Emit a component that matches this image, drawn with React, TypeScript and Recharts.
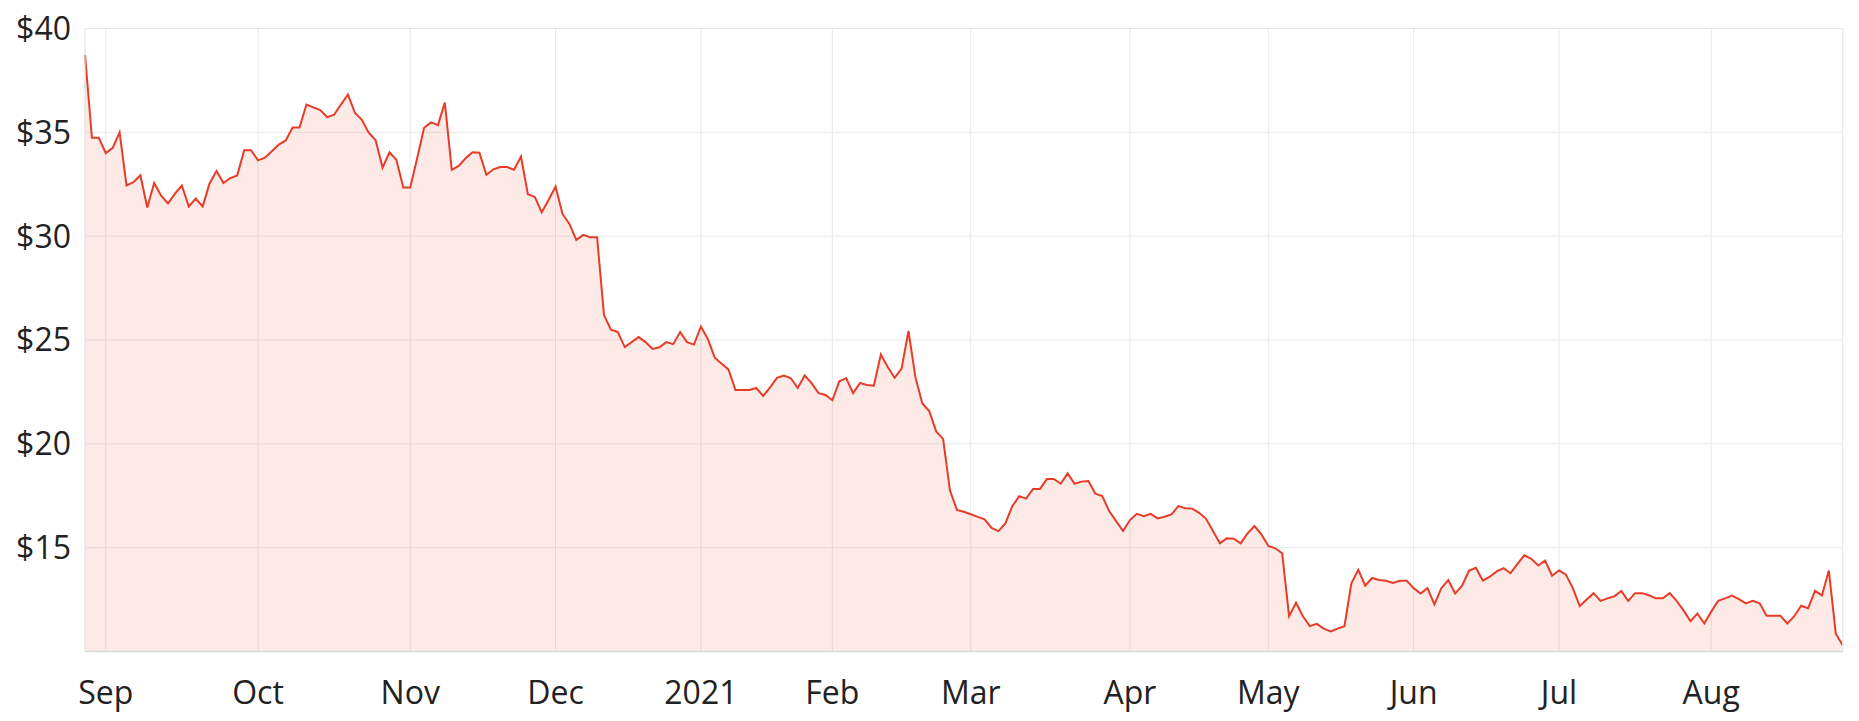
import React from "react";
import {
  AreaChart,
  Area,
  XAxis,
  YAxis,
  CartesianGrid,
  ReferenceLine,
} from "recharts";

// Daily closing prices (trading days), grouped by month
const aug20 = [38.73, 34.74, 34.74];
const sep20 = [34.0, 34.25, 35.0, 32.44, 32.6, 32.93, 31.38, 32.56, 31.95, 31.58, 32.05, 32.44, 31.43, 31.81, 31.43, 32.54, 33.14, 32.56, 32.8, 32.92, 34.14, 34.14];
const oct20 = [33.65, 33.78, 34.09, 34.41, 34.61, 35.23, 35.23, 36.34, 36.2, 36.07, 35.73, 35.85, 36.35, 36.82, 35.94, 35.6, 34.98, 34.62, 33.3, 34.04, 33.67, 32.34];
const nov20 = [32.34, 33.75, 35.22, 35.48, 35.35, 36.43, 33.19, 33.38, 33.75, 34.04, 34.02, 32.95, 33.22, 33.33, 33.33, 33.2, 33.83, 32.02, 31.89, 31.15, 31.75];
const dec20 = [32.39, 31.07, 30.59, 29.82, 30.06, 29.95, 29.95, 26.2, 25.5, 25.38, 24.66, 24.9, 25.14, 24.9, 24.57, 24.65, 24.9, 24.8, 25.38, 24.9, 24.78];
const jan21 = [25.65, 25.05, 24.15, 23.86, 23.57, 22.59, 22.59, 22.59, 22.69, 22.31, 22.72, 23.18, 23.29, 23.16, 22.69, 23.29, 22.92, 22.44, 22.35];
const feb21 = [22.1, 23.01, 23.16, 22.44, 22.93, 22.83, 22.8, 24.3, 23.7, 23.18, 23.62, 25.44, 23.21, 21.94, 21.58, 20.6, 20.24, 17.75, 16.82, 16.73];
const mar21 = [16.61, 16.48, 16.36, 15.95, 15.8, 16.17, 17.0, 17.48, 17.36, 17.83, 17.83, 18.31, 18.31, 18.08, 18.58, 18.08, 18.18, 18.21, 17.6, 17.48, 16.76, 16.28, 15.8];
const apr21 = [16.33, 16.63, 16.52, 16.63, 16.41, 16.49, 16.6, 17.0, 16.9, 16.88, 16.68, 16.39, 15.8, 15.21, 15.45, 15.43, 15.21, 15.69, 16.04, 15.64];
const may21 = [15.08, 14.97, 14.73, 11.7, 12.35, 11.7, 11.22, 11.33, 11.1, 10.97, 11.1, 11.22, 13.28, 13.93, 13.17, 13.54, 13.44, 13.41, 13.3, 13.41, 13.41];
const jun21 = [13.05, 12.79, 13.05, 12.27, 13.05, 13.44, 12.79, 13.17, 13.9, 14.03, 13.41, 13.6, 13.86, 14.01, 13.77, 14.22, 14.63, 14.46, 14.14, 14.38, 13.65];
const jul21 = [13.9, 13.7, 13.05, 12.19, 12.5, 12.81, 12.44, 12.56, 12.66, 12.92, 12.44, 12.81, 12.81, 12.71, 12.56, 12.56, 12.81, 12.44, 11.98, 11.46, 11.83, 11.35];
const aug21 = [11.92, 12.44, 12.56, 12.69, 12.52, 12.32, 12.44, 12.32, 11.72, 11.72, 11.72, 11.35, 11.7, 12.2, 12.08, 12.92, 12.7, 13.9, 10.86, 10.3];

const monthSeries = [aug20, sep20, oct20, nov20, dec20, jan21, feb21, mar21, apr21, may21, jun21, jul21, aug21];
const monthLabels = ["", "Sep", "Oct", "Nov", "Dec", "2021", "Feb", "Mar", "Apr", "May", "Jun", "Jul", "Aug"];

const yTicks = [15, 20, 25, 30, 35, 40];
const yDomain = [10, 40];

// build table
const data: { i: number; v: number }[] = [];
const xTicks: number[] = [];
const tickLabel: Record<number, string> = {};
monthSeries.forEach((arr, m) => {
  const start = data.length;
  if (monthLabels[m]) {
    xTicks.push(start);
    tickLabel[start] = monthLabels[m];
  }
  arr.forEach((v) => data.push({ i: data.length, v }));
});
const lastIdx = data.length - 1;

const FONT = "'Open Sans', sans-serif";
const GRID = "#e8e8e8";

export default function App() {
  return (
    <div style={{ margin: "-8px 0 0 -8px", width: 1859, height: 721 }}>
      <AreaChart
        width={1859}
        height={721}
        data={data}
        margin={{ top: 28.5, right: 16.3, left: 0, bottom: 0 }}
      >
        <CartesianGrid stroke={GRID} strokeWidth={1} />
        <XAxis
          type="number"
          dataKey="i"
          domain={[0, lastIdx]}
          ticks={xTicks}
          interval={0}
          tickFormatter={(v: number) => tickLabel[v] ?? ""}
          tickLine={false}
          tickSize={0}
          tickMargin={30}
          height={69.5}
          axisLine={{ stroke: "#d9d9d9", strokeWidth: 1.5 }}
          tick={{ fontSize: 32, fill: "#222222", fontFamily: FONT }}
        />
        <YAxis
          type="number"
          domain={yDomain}
          ticks={yTicks}
          interval={0}
          width={85}
          tickFormatter={(v: number) => `$${v}`}
          axisLine={false}
          tickLine={false}
          tickSize={0}
          tickMargin={14}
          tick={{ fontSize: 32, fill: "#222222", fontFamily: FONT }}
        />
        <ReferenceLine x={0} stroke={GRID} />
        <ReferenceLine x={lastIdx} stroke={GRID} />
        <Area
          type="linear"
          dataKey="v"
          stroke="#e63c28"
          strokeWidth={2}
          fill="#ef4a33"
          fillOpacity={0.12}
          dot={false}
          activeDot={false}
          isAnimationActive={false}
        />
      </AreaChart>
    </div>
  );
}
